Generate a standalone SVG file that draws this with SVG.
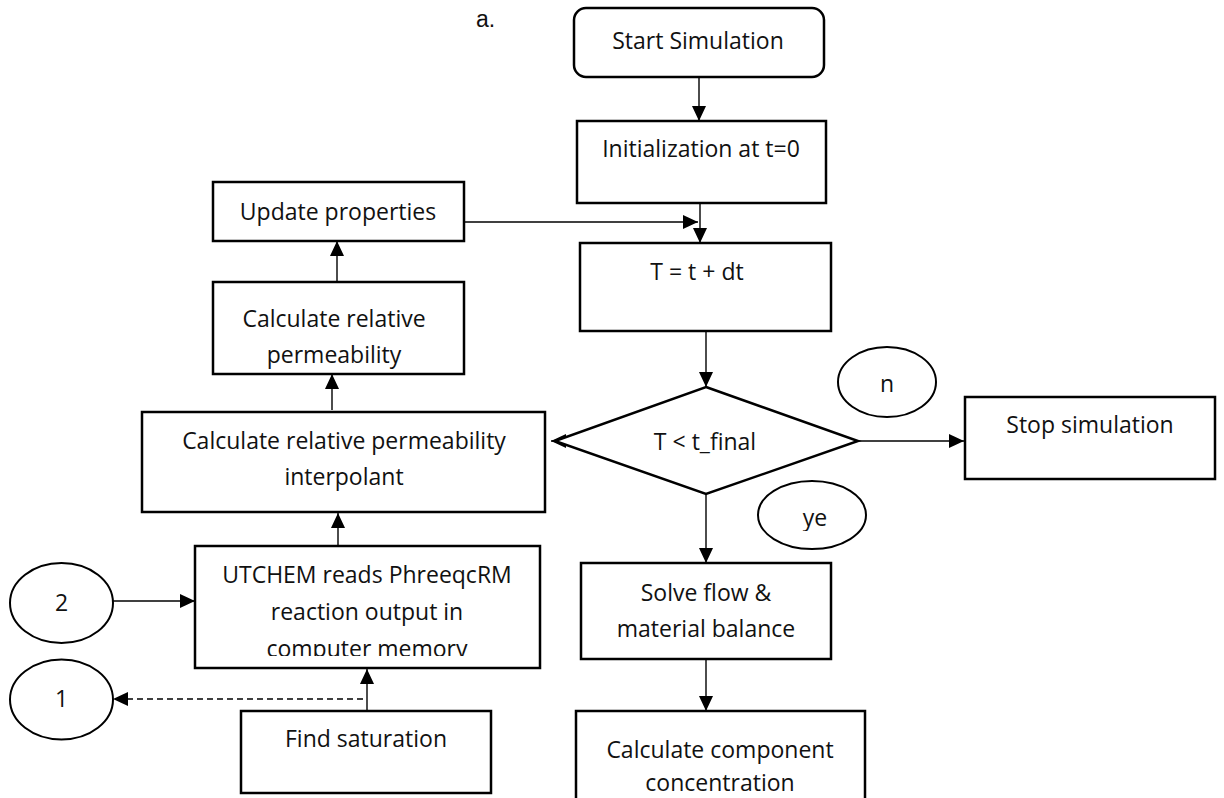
<svg xmlns="http://www.w3.org/2000/svg" width="1224" height="798" viewBox="0 0 1224 798">
<style>
.box{fill:#fff;stroke:#000;stroke-width:2.5}
.ell{fill:#fff;stroke:#000;stroke-width:2}
.t{font-family:"Open Sans","Noto Sans",sans-serif;font-size:23px;fill:#111;text-anchor:middle}
.c{fill:none;stroke:#000;stroke-width:1.4}
.d{stroke-dasharray:6 4}
</style>
<defs>
<marker id="ah" markerUnits="userSpaceOnUse" markerWidth="15" markerHeight="14" refX="15" refY="7" orient="auto">
<path d="M0,0 L15,7 L0,14 z" fill="#000"/>
</marker>
<clipPath id="clipU"><rect x="195" y="546" width="345" height="110"/></clipPath>
<clipPath id="clipY"><rect x="757" y="480" width="110" height="51"/></clipPath>
</defs>
<text x="476" y="27" style="font-family:'Liberation Sans',Arial,sans-serif;font-size:23px;fill:#111">a.</text>
<g id="connectors">
<path class="c" d="M699,77 V121" marker-end="url(#ah)"/>
<path class="c" d="M700,203 V243" marker-end="url(#ah)"/>
<path class="c" d="M464,222 H698" marker-end="url(#ah)"/>
<path class="c" d="M706,331 V387" marker-end="url(#ah)"/>
<path class="c" d="M858,441 H964" marker-end="url(#ah)"/>
<path class="c" d="M706,494 V563" marker-end="url(#ah)"/>
<path class="c" d="M706,659 V711" marker-end="url(#ah)"/>
<path class="c" d="M337,282 V241" marker-end="url(#ah)"/>
<path class="c" d="M332,410 V374" marker-end="url(#ah)"/>
<path class="c" d="M338,546 V513" marker-end="url(#ah)"/>
<path class="c" d="M113,601 H195" marker-end="url(#ah)"/>
<path class="c" d="M367,711 V669" marker-end="url(#ah)"/>
<path class="c d" d="M363,699 H113" marker-end="url(#ah)"/>
<path class="c" d="M566,441 H551" marker-end="url(#ah)"/>
</g>
<g id="start">
<rect class="box" x="574" y="8" width="250" height="69" rx="12"/>
<text class="t" x="698" y="49">Start Simulation</text>
</g>
<g id="init">
<rect class="box" x="577" y="121" width="249" height="82"/>
<text class="t" x="701" y="157">Initialization at t=0</text>
</g>
<g id="update">
<rect class="box" x="213" y="182" width="251" height="59"/>
<text class="t" x="338" y="220">Update properties</text>
</g>
<g id="tstep">
<rect class="box" x="580" y="243" width="251" height="88"/>
<text class="t" x="697" y="280">T = t + dt</text>
</g>
<g id="calcrel">
<rect class="box" x="213" y="282" width="251" height="92"/>
<text class="t" x="334" y="327">Calculate relative</text>
<text class="t" x="334" y="363">permeability</text>
</g>
<g id="decision">
<path class="box" d="M706,387 L858,441 L706,494 L555,441 z"/>
<text class="t" x="705" y="450">T &lt; t_final</text>
</g>
<g id="interp">
<rect class="box" x="142" y="412" width="403" height="100"/>
<text class="t" x="344" y="449">Calculate relative permeability</text>
<text class="t" x="344" y="485">interpolant</text>
</g>
<g id="n">
<ellipse class="ell" cx="887" cy="382" rx="49" ry="35"/>
<text class="t" x="887" y="392">n</text>
</g>
<g id="stop">
<rect class="box" x="965" y="397" width="250" height="82"/>
<text class="t" x="1090" y="433">Stop simulation</text>
</g>
<g id="ye">
<ellipse class="ell" cx="812" cy="515" rx="54" ry="34"/>
<text class="t" x="815" y="526" clip-path="url(#clipY)">ye</text>
</g>
<g id="utchem">
<rect class="box" x="195" y="546" width="345" height="122"/>
<g clip-path="url(#clipU)">
<text class="t" x="367" y="583">UTCHEM reads PhreeqcRM</text>
<text class="t" x="367" y="620">reaction output in</text>
<text class="t" x="367" y="657">computer memory</text>
</g>
</g>
<g id="c2">
<ellipse class="ell" cx="61.5" cy="603" rx="51.5" ry="40"/>
<text class="t" x="61.5" y="611">2</text>
</g>
<g id="c1">
<ellipse class="ell" cx="61.5" cy="699.5" rx="51.5" ry="40"/>
<text class="t" x="61.5" y="707">1</text>
</g>
<g id="solve">
<rect class="box" x="581" y="563" width="250" height="96"/>
<text class="t" x="706" y="601">Solve flow &amp;</text>
<text class="t" x="706" y="637">material balance</text>
</g>
<g id="findsat">
<rect class="box" x="241" y="711" width="250" height="82"/>
<text class="t" x="366" y="747">Find saturation</text>
</g>
<g id="calccomp">
<rect class="box" x="576" y="711" width="289" height="90"/>
<text class="t" x="720" y="758">Calculate component</text>
<text class="t" x="720" y="791">concentration</text>
</g>
</svg>
